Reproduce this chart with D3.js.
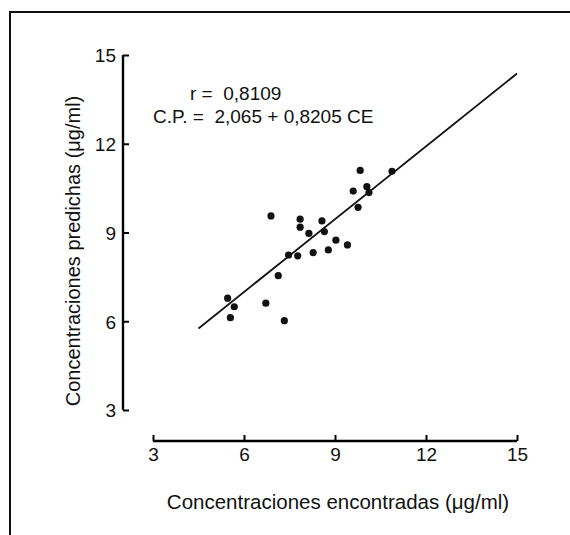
<!DOCTYPE html>
<html>
<head>
<meta charset="utf-8">
<script src="https://cdn.jsdelivr.net/npm/d3@7"></script>
<style>
  body { margin: 0; background: #fff; }
  svg text { font-family: "Liberation Sans", Arial, sans-serif; fill: #111; white-space: pre; }
</style>
</head>
<body>
<svg id="chart" width="570" height="535"></svg>
<script>
var encontradas = [5.46, 5.68, 5.55, 6.72, 7.33, 7.13, 6.89, 7.47, 7.77, 7.85, 7.85, 8.14,
                   8.28, 8.57, 8.65, 8.78, 9.03, 9.41, 9.60, 9.76, 9.83, 10.05, 10.12, 10.88];
var predichas   = [6.78, 6.49, 6.12, 6.61, 6.02, 7.54, 9.56, 8.24, 8.21, 9.45, 9.18, 8.97,
                   8.32, 9.39, 9.03, 8.41, 8.74, 8.58, 10.40, 9.85, 11.10, 10.55, 10.35, 11.07];
var tickValues = [3, 6, 9, 12, 15];
// regression line C.P. = 2,065 + 0,8205 CE drawn between these x values
var lineRange = [4.5, 15];
var intercept = 2.065, slope = 0.8205;

var svg = d3.select("#chart");

// frame of the scanned figure (top and left edges only)
svg.append("path")
    .attr("d", "M10,535 V12 H570")
    .attr("fill", "none")
    .attr("stroke", "#111")
    .attr("stroke-width", 2);

var x = d3.scaleLinear().domain([3, 15]).range([153, 517]);
var y = d3.scaleLinear().domain([3, 15]).range([410, 55]);

// y axis, ticks pointing inward
var yAxis = svg.append("g")
    .attr("transform", "translate(123,0)")
    .call(d3.axisRight(y).tickValues(tickValues).tickSize(6).tickFormat(""));
yAxis.select(".domain").attr("stroke-width", 2.4).attr("d", "M0," + y(3) + "V" + y(15));
yAxis.selectAll(".tick line").attr("stroke-width", 2);
yAxis.selectAll(".tick").append("text")
    .attr("x", -7).attr("dy", "0.36em")
    .attr("text-anchor", "end")
    .style("font-size", "19px")
    .text(function(d){ return d; });

// x axis, ticks pointing up
var xAxis = svg.append("g")
    .attr("transform", "translate(0,441)")
    .call(d3.axisTop(x).tickValues(tickValues).tickSize(6).tickFormat(""));
xAxis.select(".domain").attr("stroke-width", 2.4).attr("d", "M" + x(3) + ",0H" + x(15));
xAxis.selectAll(".tick line").attr("stroke-width", 2);
xAxis.selectAll(".tick").append("text")
    .attr("y", 20)
    .attr("text-anchor", "middle")
    .style("font-size", "19px")
    .text(function(d){ return d; });

// regression line
svg.append("line")
    .attr("x1", x(lineRange[0])).attr("y1", y(intercept + slope * lineRange[0]))
    .attr("x2", x(lineRange[1])).attr("y2", y(intercept + slope * lineRange[1]))
    .attr("stroke", "#111")
    .attr("stroke-width", 1.8);

// points
svg.selectAll("circle.pt")
    .data(encontradas)
    .enter().append("circle")
    .attr("class", "pt")
    .attr("cx", function(d){ return x(d); })
    .attr("cy", function(d, i){ return y(predichas[i]); })
    .attr("r", 3.6)
    .attr("fill", "#111");

// annotation
svg.append("text").attr("x", 190).attr("y", 100)
    .style("font-size", "19px").text("r =  0,8109");
svg.append("text").attr("x", 153).attr("y", 123)
    .style("font-size", "19px").text("C.P. =  2,065 + 0,8205 CE");

// axis titles
svg.append("text")
    .attr("x", 338).attr("y", 509)
    .attr("text-anchor", "middle")
    .style("font-size", "20.5px")
    .text("Concentraciones encontradas (μg/ml)");
svg.append("text")
    .attr("transform", "translate(80,251) rotate(-90)")
    .attr("text-anchor", "middle")
    .style("font-size", "20px")
    .text("Concentraciones predichas (μg/ml)");
</script>
</body>
</html>
